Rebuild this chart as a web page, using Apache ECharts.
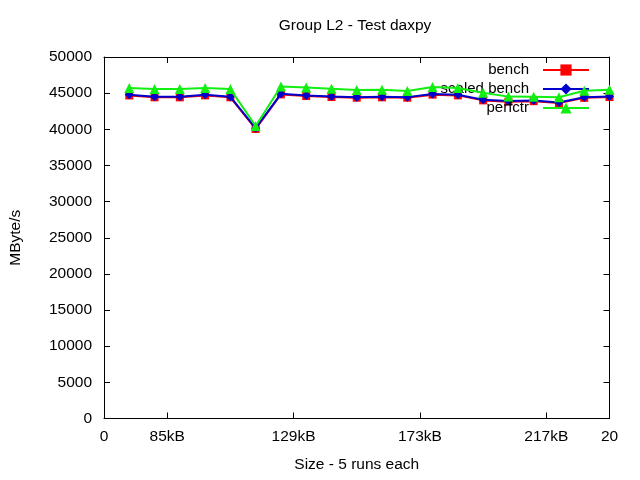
<!DOCTYPE html>
<html>
<head>
<meta charset="utf-8">
<script src="https://cdn.jsdelivr.net/npm/echarts@6/dist/echarts.min.js"></script>
<style>html,body{margin:0;padding:0;background:#fff;}#c{width:640px;height:480px;}</style>
</head>
<body>
<div id="c"></div>
<script>
var xPositions = [1,2,3,4,5,6,7,8,9,10,11,12,13,14,15,16,17,18,19,20];
var bench = [44680,44420,44420,44690,44420,40050,44830,44600,44460,44370,44420,44370,44790,44690,44000,43820,43890,43620,44350,44460];
var scaledBench = [44770,44500,44500,44770,44500,40150,44910,44680,44540,44450,44500,44450,44870,44770,44080,43900,43970,43700,44430,44540];
var perfctr = [45700,45560,45560,45700,45560,40450,45920,45780,45600,45420,45460,45300,45850,45700,45050,44520,44500,44430,45330,45460];
var xTickValues = [0, 2.5, 7.5, 12.5, 17.5, 20];
var xTickLabels = ['0', '85kB', '129kB', '173kB', '217kB', '20'];
var seriesNames = ['bench', 'scaled bench', 'perfctr'];

function pairs(ys){ return ys.map(function(v,i){ return [xPositions[i], v]; }); }
var FONT = 'Liberation Sans';
var FS = 15.5;
var chart = echarts.init(document.getElementById('c'), null, {renderer:'canvas'});
var axisLineStyle = {color:'#000', width:1};
chart.setOption({
  animation:false,
  backgroundColor:'#fff',
  textStyle:{fontFamily:FONT},
  title:{
    text:'Group L2 - Test daxpy',
    left:355, top:18, textAlign:'center', padding:0,
    textStyle:{fontFamily:FONT, fontSize:FS, fontWeight:'normal', color:'#000'}
  },
  legend:{
    orient:'vertical', right:50, top:60.5, padding:0, align:'right',
    itemWidth:46, itemHeight:14, itemGap:0,
    data:seriesNames,
    textStyle:{fontFamily:FONT, fontSize:15, color:'#000', lineHeight:19, padding:[0,9,0,0]}
  },
  grid:{left:104, right:30.5, top:57, bottom:61.5, containLabel:false},
  xAxis:[{
    type:'value', min:0, max:20, position:'bottom',
    name:'Size - 5 runs each', nameLocation:'middle', nameGap:38,
    nameTextStyle:{fontFamily:FONT, fontSize:FS, color:'#000'},
    axisLine:{show:true, onZero:false, lineStyle:axisLineStyle},
    axisTick:{show:true, inside:true, length:6, lineStyle:axisLineStyle, customValues:[2.5,7.5,12.5,17.5]},
    axisLabel:{color:'#000', fontFamily:FONT, fontSize:FS, margin:10, customValues:xTickValues,
      formatter:function(v){ var i = xTickValues.indexOf(v); return i>=0 ? xTickLabels[i] : ''; }},
    splitLine:{show:false}
  },{
    type:'value', min:0, max:20, position:'top',
    axisLine:{show:true, onZero:false, lineStyle:axisLineStyle},
    axisTick:{show:true, inside:true, length:6, lineStyle:axisLineStyle, customValues:[2.5,7.5,12.5,17.5]},
    axisLabel:{show:false},
    splitLine:{show:false}
  }],
  yAxis:[{
    type:'value', min:0, max:50000, interval:5000, position:'left',
    name:'MByte/s', nameLocation:'middle', nameGap:80, nameRotate:90,
    nameTextStyle:{fontFamily:FONT, fontSize:FS, color:'#000'},
    axisLine:{show:true, onZero:false, lineStyle:axisLineStyle},
    axisTick:{show:true, inside:true, length:6, lineStyle:axisLineStyle},
    axisLabel:{color:'#000', fontFamily:FONT, fontSize:FS, margin:12, formatter:function(v){ return String(v); }},
    splitLine:{show:false}
  },{
    type:'value', min:0, max:50000, interval:5000, position:'right',
    axisLine:{show:true, onZero:false, lineStyle:axisLineStyle},
    axisTick:{show:true, inside:true, length:6, lineStyle:axisLineStyle},
    axisLabel:{show:false},
    splitLine:{show:false}
  }],
  series:[{
    name:seriesNames[0], type:'line', data:pairs(bench),
    symbol:'rect', symbolSize:8, showAllSymbol:true,
    lineStyle:{color:'#ff0000', width:2}, itemStyle:{color:'#ff0000'}, z:2
  },{
    name:seriesNames[1], type:'line', data:pairs(scaledBench),
    symbol:'diamond', symbolSize:9, showAllSymbol:true,
    lineStyle:{color:'#0000cc', width:2}, itemStyle:{color:'#0000cc'}, z:3
  },{
    name:seriesNames[2], type:'line', data:pairs(perfctr),
    symbol:'triangle', symbolSize:10, showAllSymbol:true,
    lineStyle:{color:'#11ee11', width:2}, itemStyle:{color:'#11ee11'}, z:4
  }]
});
</script>
</body>
</html>
